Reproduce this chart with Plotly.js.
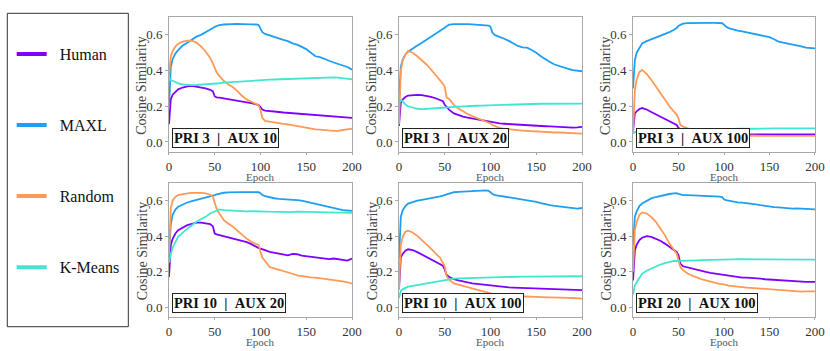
<!DOCTYPE html>
<html>
<head>
<meta charset="utf-8">
<script src="https://cdn.plot.ly/plotly-3.0.1.min.js"></script>
<style>
  html, body { margin: 0; padding: 0; background: #ffffff; }
  #chart { width: 830px; height: 351px; }
</style>
</head>
<body>
<div id="chart"></div>
<script>
const epochs = [0, 1, 2, 4, 7, 10, 15, 20, 25, 30, 35, 40, 45, 48, 50, 52, 55, 60, 65, 70, 75, 80, 85, 90, 95, 98, 100, 102, 105, 110, 115, 120, 125, 130, 135, 140, 145, 150, 155, 160, 165, 170, 175, 180, 185, 190, 195, 200];

const methods = ['Human', 'MAXL', 'Random', 'K-Means'];
const methodColors = ['#8000ff', '#1e9ff0', '#ff9955', '#40e6d0'];
const panelLabels = ['PRI 3 | AUX 10', 'PRI 3 | AUX 20', 'PRI 3 | AUX 100', 'PRI 10 | AUX 20', 'PRI 10 | AUX 100', 'PRI 20 | AUX 100'];
const xTicks = [0, 50, 100, 150, 200];
const yTicks = [0.0, 0.2, 0.4, 0.6];

// PRI 3 | AUX 10
const pri3aux10Human = [0.10, 0.20, 0.24, 0.265, 0.283, 0.295, 0.305, 0.312, 0.314, 0.31, 0.305, 0.30, 0.292, 0.283, 0.255, 0.25, 0.248, 0.243, 0.238, 0.236, 0.23, 0.226, 0.222, 0.218, 0.212, 0.207, 0.195, 0.182, 0.176, 0.172, 0.17, 0.168, 0.165, 0.163, 0.16, 0.162, 0.157, 0.155, 0.152, 0.15, 0.148, 0.146, 0.145, 0.143, 0.144, 0.14, 0.139, 0.135];
const pri3aux10Maxl = [0.20, 0.36, 0.42, 0.465, 0.495, 0.515, 0.54, 0.556, 0.573, 0.59, 0.60, 0.613, 0.627, 0.638, 0.645, 0.65, 0.655, 0.658, 0.66, 0.66, 0.661, 0.66, 0.661, 0.659, 0.658, 0.655, 0.635, 0.615, 0.605, 0.596, 0.59, 0.58, 0.572, 0.565, 0.552, 0.545, 0.533, 0.52, 0.50, 0.48, 0.475, 0.463, 0.455, 0.445, 0.437, 0.43, 0.42, 0.405];
const pri3aux10Random = [0.37, 0.44, 0.48, 0.51, 0.535, 0.55, 0.562, 0.567, 0.568, 0.557, 0.535, 0.507, 0.47, 0.44, 0.413, 0.39, 0.37, 0.341, 0.322, 0.306, 0.283, 0.257, 0.238, 0.225, 0.216, 0.205, 0.178, 0.135, 0.118, 0.113, 0.108, 0.103, 0.101, 0.098, 0.093, 0.088, 0.084, 0.079, 0.075, 0.071, 0.069, 0.066, 0.064, 0.062, 0.063, 0.066, 0.07, 0.075];
const pri3aux10Kmeans = [0.356, 0.35, 0.346, 0.343, 0.335, 0.328, 0.322, 0.319, 0.318, 0.319, 0.321, 0.323, 0.322, 0.323, 0.323, 0.326, 0.329, 0.332, 0.334, 0.336, 0.338, 0.341, 0.342, 0.342, 0.344, 0.345, 0.347, 0.346, 0.348, 0.349, 0.35, 0.351, 0.353, 0.354, 0.354, 0.356, 0.357, 0.358, 0.36, 0.362, 0.361, 0.362, 0.363, 0.362, 0.36, 0.358, 0.355, 0.351];

// PRI 3 | AUX 20
const pri3aux20Human = [0.09, 0.19, 0.22, 0.238, 0.252, 0.26, 0.263, 0.264, 0.262, 0.258, 0.252, 0.245, 0.236, 0.228, 0.208, 0.195, 0.18, 0.16, 0.15, 0.142, 0.137, 0.132, 0.128, 0.123, 0.118, 0.116, 0.113, 0.11, 0.107, 0.104, 0.102, 0.10, 0.10, 0.099, 0.097, 0.094, 0.092, 0.089, 0.089, 0.088, 0.087, 0.085, 0.083, 0.081, 0.081, 0.08, 0.082, 0.085];
const pri3aux20Maxl = [0.22, 0.36, 0.42, 0.46, 0.49, 0.506, 0.525, 0.54, 0.556, 0.572, 0.588, 0.604, 0.623, 0.634, 0.64, 0.648, 0.657, 0.66, 0.661, 0.661, 0.66, 0.659, 0.658, 0.657, 0.655, 0.652, 0.645, 0.613, 0.598, 0.59, 0.578, 0.566, 0.552, 0.538, 0.53, 0.528, 0.515, 0.50, 0.48, 0.462, 0.448, 0.434, 0.425, 0.415, 0.41, 0.402, 0.398, 0.396];
const pri3aux20Random = [0.10, 0.33, 0.40, 0.455, 0.49, 0.51, 0.50, 0.48, 0.458, 0.434, 0.406, 0.377, 0.349, 0.326, 0.31, 0.25, 0.24, 0.208, 0.188, 0.17, 0.157, 0.145, 0.135, 0.126, 0.115, 0.108, 0.104, 0.095, 0.089, 0.079, 0.074, 0.07, 0.068, 0.066, 0.064, 0.062, 0.06, 0.057, 0.056, 0.056, 0.054, 0.053, 0.053, 0.052, 0.05, 0.049, 0.048, 0.047];
const pri3aux20Kmeans = [0.217, 0.232, 0.236, 0.228, 0.21, 0.20, 0.192, 0.186, 0.184, 0.185, 0.186, 0.188, 0.19, 0.191, 0.192, 0.193, 0.195, 0.197, 0.198, 0.20, 0.201, 0.202, 0.203, 0.204, 0.205, 0.206, 0.207, 0.207, 0.208, 0.209, 0.21, 0.211, 0.211, 0.212, 0.212, 0.213, 0.213, 0.213, 0.214, 0.214, 0.214, 0.215, 0.215, 0.215, 0.215, 0.214, 0.215, 0.215];

// PRI 3 | AUX 100
const pri3aux100Human = [0.06, 0.13, 0.16, 0.172, 0.185, 0.19, 0.182, 0.168, 0.155, 0.143, 0.131, 0.119, 0.106, 0.095, 0.078, 0.072, 0.067, 0.061, 0.057, 0.054, 0.052, 0.051, 0.049, 0.048, 0.046, 0.045, 0.044, 0.044, 0.043, 0.043, 0.042, 0.042, 0.041, 0.041, 0.041, 0.04, 0.04, 0.04, 0.039, 0.039, 0.039, 0.039, 0.038, 0.039, 0.039, 0.04, 0.041, 0.042];
const pri3aux100Maxl = [0.30, 0.42, 0.46, 0.50, 0.53, 0.552, 0.565, 0.575, 0.585, 0.594, 0.604, 0.615, 0.629, 0.638, 0.651, 0.657, 0.663, 0.666, 0.667, 0.667, 0.668, 0.668, 0.667, 0.667, 0.666, 0.665, 0.657, 0.647, 0.638, 0.629, 0.624, 0.619, 0.614, 0.61, 0.605, 0.60, 0.594, 0.587, 0.575, 0.562, 0.556, 0.552, 0.548, 0.543, 0.536, 0.528, 0.526, 0.524];
const pri3aux100Random = [0.05, 0.20, 0.29, 0.35, 0.392, 0.404, 0.381, 0.349, 0.314, 0.276, 0.238, 0.20, 0.171, 0.152, 0.133, 0.095, 0.086, 0.076, 0.071, 0.067, 0.062, 0.057, 0.053, 0.048, 0.045, 0.043, 0.042, 0.041, 0.04, 0.039, 0.039, 0.038, 0.037, 0.036, 0.035, 0.034, 0.034, 0.033, 0.033, 0.033, 0.033, 0.032, 0.033, 0.033, 0.033, 0.034, 0.034, 0.034];
const pri3aux100Kmeans = [0.048, 0.052, 0.055, 0.057, 0.059, 0.061, 0.062, 0.063, 0.064, 0.065, 0.066, 0.067, 0.068, 0.068, 0.069, 0.069, 0.069, 0.07, 0.07, 0.07, 0.071, 0.071, 0.071, 0.072, 0.072, 0.072, 0.072, 0.073, 0.073, 0.073, 0.074, 0.074, 0.074, 0.075, 0.075, 0.075, 0.075, 0.076, 0.076, 0.076, 0.076, 0.076, 0.076, 0.077, 0.077, 0.077, 0.077, 0.076];

// PRI 10 | AUX 20
const pri10aux20Human = [0.17, 0.30, 0.35, 0.385, 0.415, 0.434, 0.45, 0.462, 0.47, 0.477, 0.477, 0.472, 0.468, 0.455, 0.415, 0.41, 0.406, 0.396, 0.39, 0.387, 0.38, 0.372, 0.366, 0.355, 0.34, 0.333, 0.33, 0.325, 0.321, 0.311, 0.306, 0.302, 0.297, 0.292, 0.30, 0.298, 0.29, 0.287, 0.283, 0.279, 0.276, 0.274, 0.27, 0.274, 0.27, 0.268, 0.262, 0.274];
const pri10aux20Maxl = [0.30, 0.42, 0.47, 0.52, 0.55, 0.566, 0.58, 0.59, 0.598, 0.604, 0.612, 0.619, 0.626, 0.63, 0.632, 0.636, 0.64, 0.645, 0.647, 0.649, 0.65, 0.649, 0.649, 0.65, 0.649, 0.648, 0.642, 0.632, 0.626, 0.619, 0.614, 0.611, 0.61, 0.608, 0.605, 0.604, 0.60, 0.594, 0.585, 0.579, 0.575, 0.57, 0.563, 0.557, 0.552, 0.547, 0.545, 0.543];
const pri10aux20Random = [0.30, 0.50, 0.56, 0.60, 0.622, 0.632, 0.638, 0.642, 0.644, 0.645, 0.644, 0.642, 0.634, 0.623, 0.585, 0.555, 0.528, 0.49, 0.47, 0.453, 0.43, 0.406, 0.386, 0.368, 0.358, 0.35, 0.311, 0.279, 0.26, 0.226, 0.218, 0.211, 0.205, 0.198, 0.188, 0.179, 0.174, 0.17, 0.168, 0.166, 0.163, 0.16, 0.155, 0.151, 0.148, 0.145, 0.14, 0.132];
const pri10aux20Kmeans = [0.25, 0.28, 0.30, 0.335, 0.37, 0.396, 0.42, 0.443, 0.462, 0.481, 0.495, 0.509, 0.528, 0.535, 0.538, 0.545, 0.551, 0.547, 0.545, 0.543, 0.54, 0.538, 0.54, 0.541, 0.539, 0.54, 0.538, 0.537, 0.539, 0.538, 0.537, 0.538, 0.537, 0.538, 0.536, 0.538, 0.537, 0.537, 0.536, 0.537, 0.536, 0.535, 0.535, 0.534, 0.533, 0.533, 0.532, 0.532];

// PRI 10 | AUX 100
const pri10aux100Human = [0.10, 0.24, 0.28, 0.30, 0.318, 0.326, 0.322, 0.31, 0.297, 0.284, 0.272, 0.259, 0.243, 0.234, 0.211, 0.182, 0.169, 0.157, 0.15, 0.144, 0.139, 0.134, 0.131, 0.128, 0.123, 0.121, 0.119, 0.118, 0.116, 0.115, 0.113, 0.111, 0.11, 0.109, 0.107, 0.105, 0.105, 0.104, 0.104, 0.103, 0.102, 0.102, 0.101, 0.101, 0.099, 0.096, 0.095, 0.096];
const pri10aux100Maxl = [0.27, 0.45, 0.51, 0.545, 0.57, 0.584, 0.593, 0.60, 0.605, 0.609, 0.614, 0.619, 0.625, 0.629, 0.632, 0.637, 0.642, 0.648, 0.65, 0.651, 0.653, 0.655, 0.657, 0.659, 0.659, 0.656, 0.648, 0.638, 0.632, 0.628, 0.622, 0.617, 0.613, 0.609, 0.606, 0.603, 0.598, 0.594, 0.586, 0.579, 0.575, 0.571, 0.568, 0.565, 0.562, 0.559, 0.556, 0.559];
const pri10aux100Random = [0.10, 0.30, 0.35, 0.395, 0.425, 0.431, 0.421, 0.402, 0.379, 0.354, 0.33, 0.303, 0.278, 0.249, 0.23, 0.176, 0.153, 0.134, 0.126, 0.119, 0.112, 0.105, 0.099, 0.092, 0.085, 0.08, 0.077, 0.073, 0.07, 0.067, 0.067, 0.066, 0.063, 0.061, 0.059, 0.057, 0.057, 0.057, 0.056, 0.056, 0.055, 0.054, 0.054, 0.053, 0.052, 0.051, 0.049, 0.048];
const pri10aux100Kmeans = [0.05, 0.08, 0.092, 0.10, 0.108, 0.115, 0.12, 0.125, 0.13, 0.134, 0.138, 0.142, 0.147, 0.15, 0.153, 0.155, 0.158, 0.161, 0.162, 0.163, 0.164, 0.165, 0.166, 0.167, 0.168, 0.168, 0.169, 0.169, 0.169, 0.17, 0.17, 0.17, 0.171, 0.171, 0.172, 0.172, 0.172, 0.172, 0.173, 0.173, 0.173, 0.173, 0.174, 0.174, 0.174, 0.174, 0.174, 0.174];

// PRI 20 | AUX 100
const pri20aux100Human = [0.15, 0.28, 0.32, 0.352, 0.378, 0.391, 0.40, 0.396, 0.387, 0.374, 0.358, 0.34, 0.321, 0.311, 0.292, 0.245, 0.23, 0.223, 0.216, 0.211, 0.204, 0.198, 0.193, 0.189, 0.187, 0.186, 0.185, 0.182, 0.178, 0.174, 0.169, 0.166, 0.166, 0.165, 0.162, 0.16, 0.157, 0.155, 0.153, 0.151, 0.151, 0.15, 0.149, 0.147, 0.145, 0.142, 0.142, 0.142];
const pri20aux100Maxl = [0.35, 0.46, 0.51, 0.54, 0.57, 0.585, 0.60, 0.613, 0.621, 0.628, 0.633, 0.638, 0.642, 0.643, 0.638, 0.635, 0.632, 0.632, 0.631, 0.63, 0.63, 0.63, 0.628, 0.626, 0.623, 0.62, 0.608, 0.604, 0.60, 0.594, 0.591, 0.589, 0.587, 0.585, 0.58, 0.575, 0.57, 0.566, 0.564, 0.562, 0.559, 0.557, 0.556, 0.557, 0.555, 0.555, 0.553, 0.551];
const pri20aux100Random = [0.20, 0.38, 0.434, 0.48, 0.52, 0.534, 0.528, 0.509, 0.481, 0.443, 0.406, 0.358, 0.321, 0.302, 0.264, 0.226, 0.208, 0.189, 0.177, 0.166, 0.158, 0.151, 0.143, 0.136, 0.131, 0.129, 0.128, 0.125, 0.121, 0.117, 0.115, 0.113, 0.11, 0.108, 0.106, 0.104, 0.102, 0.10, 0.097, 0.094, 0.093, 0.091, 0.088, 0.085, 0.087, 0.088, 0.087, 0.089];
const pri20aux100Kmeans = [0.07, 0.10, 0.123, 0.14, 0.165, 0.189, 0.205, 0.217, 0.229, 0.24, 0.248, 0.255, 0.26, 0.26, 0.26, 0.261, 0.262, 0.264, 0.264, 0.264, 0.265, 0.265, 0.266, 0.267, 0.268, 0.268, 0.268, 0.268, 0.269, 0.269, 0.27, 0.27, 0.27, 0.27, 0.27, 0.27, 0.27, 0.27, 0.269, 0.268, 0.268, 0.268, 0.268, 0.268, 0.268, 0.268, 0.268, 0.268];

const panelSeries = [
    [pri3aux10Human, pri3aux10Maxl, pri3aux10Random, pri3aux10Kmeans],
    [pri3aux20Human, pri3aux20Maxl, pri3aux20Random, pri3aux20Kmeans],
    [pri3aux100Human, pri3aux100Maxl, pri3aux100Random, pri3aux100Kmeans],
    [pri10aux20Human, pri10aux20Maxl, pri10aux20Random, pri10aux20Kmeans],
    [pri10aux100Human, pri10aux100Maxl, pri10aux100Random, pri10aux100Kmeans],
    [pri20aux100Human, pri20aux100Maxl, pri20aux100Random, pri20aux100Kmeans]
];

const SERIF = 'Liberation Serif, DejaVu Serif, serif';
const FRAME = '#a8a8a8';

// Subplot boxes (paper fractions), 2 rows x 3 columns
const colDomains = [[0.2036, 0.4241], [0.4807, 0.7012], [0.7627, 0.9819]];
const rowDomains = [[0.567, 0.9516], [0.0969, 0.4786]];

const traces = [];
const layout = {
    width: 830,
    height: 351,
    margin: { l: 0, r: 0, t: 0, b: 0 },
    paper_bgcolor: '#ffffff',
    plot_bgcolor: '#ffffff',
    font: { family: SERIF, color: '#333333' },
    showlegend: true,
    legend: {
        x: 0.0141, xanchor: 'left',
        y: 0.8946, yanchor: 'top',
        bgcolor: 'rgba(0,0,0,0)',
        borderwidth: 0,
        tracegroupgap: 47.3,
        itemwidth: 30,
        font: { family: SERIF, size: 16, color: '#111111' }
    },
    shapes: [{
        type: 'rect', xref: 'paper', yref: 'paper',
        x0: 0.0088, x1: 0.1546, y0: 0.0692, y1: 0.9621,
        line: { color: '#333333', width: 1 }
    }],
    annotations: []
};

panelSeries.forEach((series, p) => {
    const n = p === 0 ? '' : String(p + 1);
    const row = Math.floor(p / 3);
    const col = p % 3;

    layout['xaxis' + n] = {
        domain: colDomains[col],
        anchor: 'y' + n,
        range: [0, 200],
        tickvals: xTicks,
        ticks: 'outside', ticklen: 2, tickcolor: FRAME,
        showline: true, mirror: true, linecolor: FRAME, linewidth: 1,
        showgrid: false, zeroline: false,
        tickfont: { family: SERIF, size: 13, color: '#333333' }
    };
    layout['yaxis' + n] = {
        domain: rowDomains[row],
        anchor: 'x' + n,
        range: [-0.056, 0.70],
        tickvals: yTicks,
        tickformat: '.1f',
        ticks: 'outside', ticklen: 3, tickcolor: FRAME,
        showline: true, mirror: true, linecolor: FRAME, linewidth: 1,
        showgrid: false, zeroline: false,
        tickfont: { family: SERIF, size: 13, color: '#333333' }
    };

    series.forEach((values, m) => {
        traces.push({
            x: epochs,
            y: values,
            xaxis: 'x' + n,
            yaxis: 'y' + n,
            type: 'scatter',
            mode: 'lines',
            name: methods[m],
            showlegend: false,
            line: { color: methodColors[m], width: 1.8 },
            hoverinfo: 'skip'
        });
    });

    // axis titles, placed tight to the ticks as in the figure
    layout.annotations.push({
        text: 'Epoch',
        xref: 'x' + n + ' domain', yref: 'y' + n + ' domain',
        x: 0.5, y: -0.132, xanchor: 'center', yanchor: 'top',
        borderpad: 0,
        showarrow: false,
        font: { family: SERIF, size: 11, color: '#555555' }
    });
    layout.annotations.push({
        text: 'Cosine Similarity',
        textangle: -90,
        xref: 'x' + n + ' domain', yref: 'y' + n + ' domain',
        x: -0.148, y: 0.49, xanchor: 'center', yanchor: 'middle',
        showarrow: false,
        font: { family: SERIF, size: 14, color: '#444444' }
    });

    layout.annotations.push({
        text: '<b>' + panelLabels[p].replace(' | ', '\u2002|\u2002') + '</b>',
        xref: 'x' + n + ' domain', yref: 'y' + n + ' domain',
        x: 0.018, y: 0.03,
        xanchor: 'left', yanchor: 'bottom',
        showarrow: false,
        bgcolor: '#ffffff',
        bordercolor: '#222222', borderwidth: 1, borderpad: 1,
        font: { family: SERIF, size: 14.5, color: '#111111' }
    });
});

// Legend entries (thicker line samples, no data of their own)
methods.forEach((name, m) => {
    traces.push({
        x: [null], y: [null],
        xaxis: 'x', yaxis: 'y',
        type: 'scatter', mode: 'lines',
        name: '\u2002' + name,
        legendgroup: name,
        showlegend: true,
        line: { color: methodColors[m], width: 4 }
    });
});

Plotly.newPlot('chart', traces, layout, { staticPlot: true, displayModeBar: false });
</script>
</body>
</html>
